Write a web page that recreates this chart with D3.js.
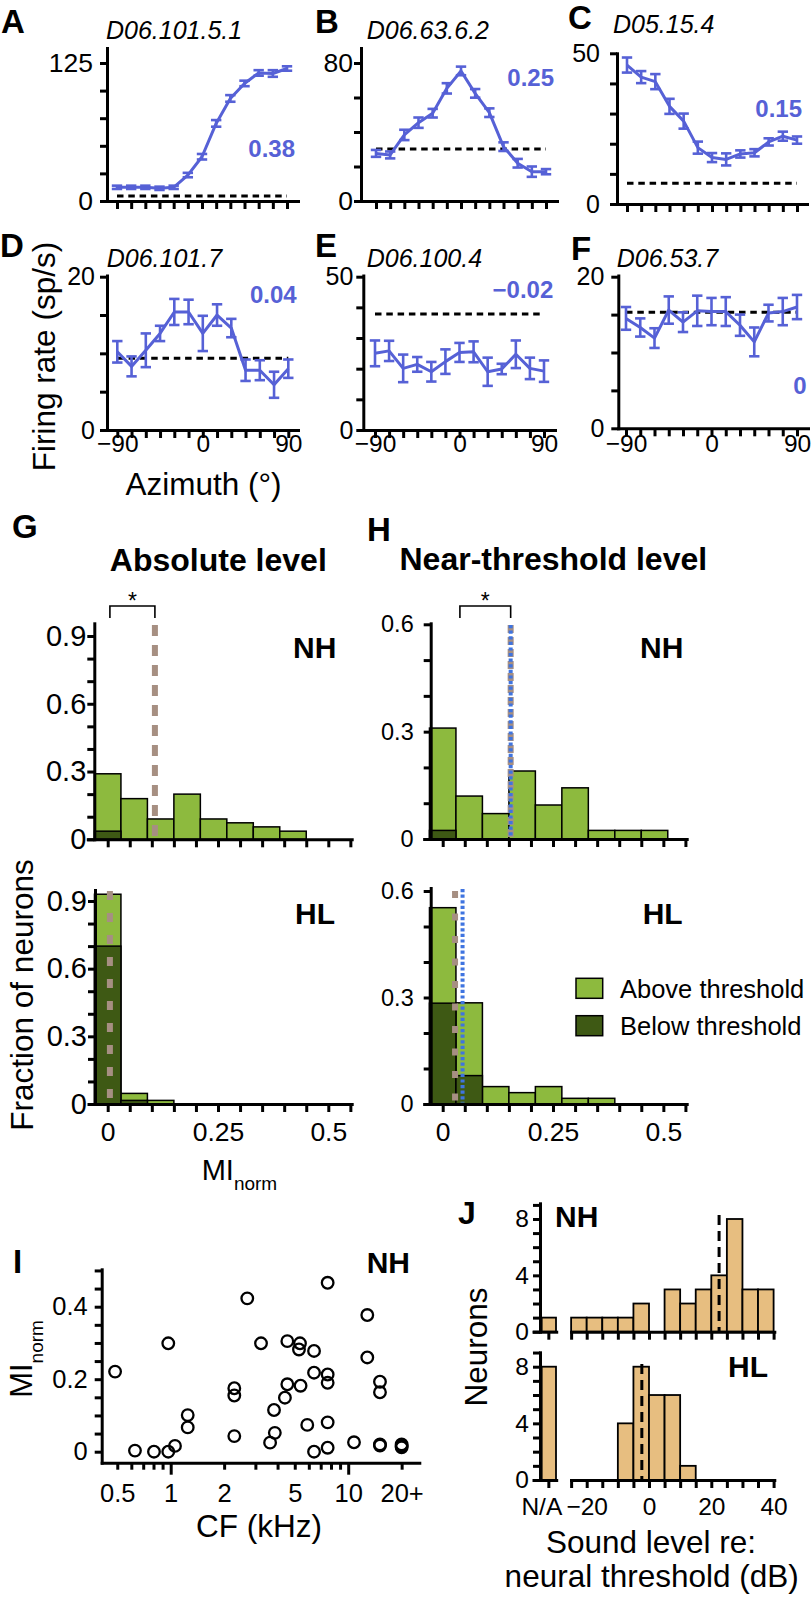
<!DOCTYPE html>
<html>
<head>
<meta charset="utf-8">
<script src="https://cdn.jsdelivr.net/npm/d3@7/dist/d3.min.js"></script>
<style>
html,body{margin:0;padding:0;background:#fff;}
svg{display:block;}
</style>
</head>
<body>
<svg id="fig" width="812" height="1603" xmlns="http://www.w3.org/2000/svg"></svg>
<script>
// ---------------- DATA ----------------
const azimuth = [-90,-75,-60,-45,-30,-15,0,15,30,45,60,75,90];
const azimuthLabels = [-90,0,90];

const rateA = [12.4,12.4,12.4,11.5,12.4,23.5,40.1,70.3,92.9,106.5,116,115.5,120];
const errA  = [1.5,1.5,1.5,1.5,1.5,2,2.5,3,3,2.5,2.5,3,2];
const spontA = 4.5, miA = '0.38', cellA = 'D06.101.5.1';

const rateB = [27.6,26.7,38.3,45.4,50.9,65.3,75.4,62.4,51.2,31.5,21.9,17.0,17.0];
const errB  = [2,2,3,3,2.5,3,2.5,2.5,2.5,2.5,2.5,3,1.5];
const spontB = 30.1, miB = '0.25', cellB = 'D06.63.6.2';

const rateC = [46.1,42.1,40.6,32.4,27.5,18.7,15.4,14.8,16.6,17.0,20.6,22.5,21.2];
const errC  = [2.5,2,2.5,2.5,2.5,2,1.5,2,1.2,1.2,1.2,1.5,1.2];
const spontC = 6.9, miC = '0.15', cellC = 'D05.15.4';

const rateD = [10.2,8.3,10.4,12.6,15.4,15.4,12.6,15.0,13.3,7.8,7.8,5.9,8.0];
const errD  = [1.4,1.3,2.2,1.0,1.7,1.6,2.3,1.4,1.2,1.4,1.3,1.7,1.2];
const spontD = 9.35, miD = '0.04', cellD = 'D06.101.7';

const rateE = [25.0,25.8,20.1,21.4,19.0,22.3,25.3,25.5,19.0,19.9,24.7,20.1,19.2];
const errE  = [4.2,3.3,4.5,2.4,3.2,4.0,3.1,3.4,4.6,1.7,4.5,3.5,3.5];
const spontE = 37.8, miE = '\u22120.02', cellE = 'D06.100.4';

const rateF = [14.5,13.3,11.9,15.6,14.0,15.5,15.4,15.4,13.6,11.4,15.2,15.4,16.0];
const errF  = [1.5,1.2,1.3,1.8,1.3,2.0,1.8,1.9,1.4,1.9,1.1,1.8,1.6];
const spontF = 15.3, miF = '0', cellF = 'D06.53.7';

// MI_norm histograms (bin centres, width 0.06)
const miBinCenters = [0,0.06,0.12,0.18,0.24,0.30,0.36,0.42,0.48];
const miBinWidth = 0.06;
const absNH_all   = [0.29,0.18,0.09,0.20,0.09,0.073,0.055,0.036,0];
const absNH_below = [0.036,0,0,0,0,0,0,0,0];
const absHL_all   = [0.93,0.047,0.016,0,0,0,0,0,0];
const absHL_below = [0.70,0.016,0,0,0,0,0,0,0];
const nearNH_all   = [0.31,0.12,0.071,0.19,0.095,0.143,0.024,0.024,0.024];
const nearNH_below = [0.024,0,0,0,0,0,0,0,0];
const nearHL_all   = [0.553,0.285,0.049,0.032,0.049,0.016,0.016,0,0];
const nearHL_below = [0.284,0.080,0,0,0,0,0,0,0];
const medAbsNH = 0.107, medAbsHL = 0.005;
const medNearNH = 0.154, medNearNH_blue = 0.154;
const medNearHL = 0.028, medNearHL_blue = 0.045;
const bracketG = [0.005, 0.107], bracketH = [0.039, 0.154];

// Scatter I
const cfKHz = [0.486,0.629,0.805,0.969,0.969,1.057,1.247,1.247,2.282,2.282,2.282,2.70,3.227,3.82,3.86,3.63,4.40,4.54,4.54,5.35,5.28,5.39,5.88,6.42,6.42,6.42,7.66,7.66,7.66,7.66,7.66,10.78,12.81,12.81,15.1,15.1,15.1,15.1,20,20,20];
const miNorm = [0.221,0.003,0.0,0.299,0.0,0.016,0.101,0.067,0.175,0.155,0.043,0.423,0.299,0.115,0.052,0.025,0.149,0.186,0.305,0.299,0.282,0.182,0.074,0.278,0.218,0.0,0.213,0.190,0.081,0.011,0.466,0.026,0.377,0.260,0.193,0.164,0.020,0.017,0.020,0.012,0.016];
const cfTicks = [0.5,0.6,0.7,0.8,0.9,1,2,3,4,5,6,7,8,9,10,20];
const cfLabels = [0.5,1,2,5,10,20];

// J histograms (5-dB bins, left edges)
const levelBinStarts = [-25,-20,-15,-10,-5,0,5,10,15,20,25,30,35];
const nhCounts = [1,1,1,1,2,0,3,2,3,4,8,3,3];
const hlCounts = [0,0,0,4,8,6,6,1,0,0,0,0,0];
const nhNA = 1, hlNA = 8;
const nhMedianDb = 22.5, hlMedianDb = -2.3;
const levelLabels = [-20,0,20,40];

// ---------------- DRAWING ----------------
const FONT = "'Liberation Sans', Arial, Helvetica, sans-serif";
const BLUE = '#5661d6';
const LIGHT = '#8dba3e', DARK = '#3e5914';
const BROWN = '#a68f82', DOTBLUE = '#3f74e0';
const TAN = '#e7be80';
const svg = d3.select('#fig').attr('font-family', FONT);

function calScale(v0, p0, v1, p1, pa, pb) {
  const s = d3.scaleLinear().domain([v0, v1]).range([p0, p1]);
  return d3.scaleLinear().domain([s.invert(pa), s.invert(pb)]).range([pa, pb]);
}
function styleAxis(g, fs) {
  g.attr('font-family', FONT).attr('font-size', fs);
  g.select('path.domain').attr('stroke', '#000').attr('stroke-width', 3).attr('stroke-linecap', 'square');
  g.selectAll('.tick line').attr('stroke', '#000').attr('stroke-width', 3);
  g.selectAll('.tick text').attr('fill', '#000');
  return g;
}
function txt(x, y, s, o = {}) {
  const t = svg.append('text').attr('x', x).attr('y', y).text(s)
    .attr('font-size', o.fs || 24).attr('text-anchor', o.anchor || 'start')
    .attr('fill', o.fill || '#000');
  if (o.bold) t.attr('font-weight', 'bold');
  if (o.italic) t.attr('font-style', 'italic');
  if (o.rot) t.attr('transform', `rotate(-90,${x},${y})`);
  if (o.ls) t.attr('letter-spacing', o.ls);
  return t;
}
const fmtMinus = d => d < 0 ? '\u2212' + (-d) : String(d);

function linePanel(p) {
  const x = calScale(-90, p.xr[0], 90, p.xr[1], p.ax, p.xEnd);
  const y = calScale(0, p.y0, p.yLab, p.yLabPx, p.y0, p.yTop);
  const gx = svg.append('g').attr('transform', `translate(0,${p.y0})`)
    .call(d3.axisBottom(x).tickValues(azimuth).tickSize(8).tickSizeOuter(0)
      .tickFormat(d => (p.xLabels && azimuthLabels.includes(d)) ? fmtMinus(d) : ''));
  styleAxis(gx, 24.5);
  gx.selectAll('.tick text').attr('y', 452 - p.y0).attr('dy', null);
  const yt = d3.range(0, p.yLab + p.yStep / 2, p.yStep);
  const gy = svg.append('g').attr('transform', `translate(${p.ax},0)`)
    .call(d3.axisLeft(y).tickValues(yt).tickSize(7).tickPadding(p.yPad).tickSizeOuter(0)
      .tickFormat(d => (d === 0 || d === p.yLab) ? d : ''));
  styleAxis(gy, p.yFs);

  svg.append('line').attr('x1', x(-90)).attr('x2', x(90))
    .attr('y1', y(p.spont)).attr('y2', y(p.spont))
    .attr('stroke', '#000').attr('stroke-width', 3).attr('stroke-dasharray', '6.5,4.8');

  const pts = azimuth.map((a, i) => ({ a, v: p.rate[i], e: p.err[i] }));
  svg.append('path').datum(pts)
    .attr('d', d3.line().x(d => x(d.a)).y(d => y(d.v)))
    .attr('fill', 'none').attr('stroke', BLUE).attr('stroke-width', 3).attr('stroke-linejoin', 'round');
  const eb = svg.append('g').attr('stroke', BLUE).attr('stroke-width', 2.6);
  eb.selectAll('line.v').data(pts).join('line').attr('class', 'v')
    .attr('x1', d => x(d.a)).attr('x2', d => x(d.a))
    .attr('y1', d => y(d.v - d.e)).attr('y2', d => y(d.v + d.e));
  eb.selectAll('line.t').data(pts).join('line').attr('class', 't')
    .attr('x1', d => x(d.a) - 5.2).attr('x2', d => x(d.a) + 5.2)
    .attr('y1', d => y(d.v + d.e)).attr('y2', d => y(d.v + d.e));
  eb.selectAll('line.b').data(pts).join('line').attr('class', 'b')
    .attr('x1', d => x(d.a) - 5.2).attr('x2', d => x(d.a) + 5.2)
    .attr('y1', d => y(d.v - d.e)).attr('y2', d => y(d.v - d.e));

  txt(p.letterX, p.letterY, p.letter, { fs: 33, bold: true });
  txt(p.titleX, p.titleY, p.title, { fs: 25, italic: true });
  txt(p.miX, p.miY, p.mi, { fs: 24, bold: true, fill: BLUE, anchor: 'end' });
}

linePanel({ rate: rateA, err: errA, spont: spontA, mi: miA, title: cellA, letter: 'A',
  xr: [117, 287], ax: 107, xEnd: 298, y0: 201, yLab: 125, yLabPx: 63, yTop: 48, yStep: 25, yPad: 7, yFs: 26.5,
  titleX: 106, titleY: 39, letterX: 1, letterY: 33, miX: 295, miY: 157, xLabels: false });
linePanel({ rate: rateB, err: errB, spont: spontB, mi: miB, title: cellB, letter: 'B',
  xr: [376, 546], ax: 361, xEnd: 557, y0: 201, yLab: 80, yLabPx: 63, yTop: 48, yStep: 20, yPad: 1, yFs: 26.5,
  titleX: 366.7, titleY: 39, letterX: 315, letterY: 33, miX: 554, miY: 86, xLabels: false });
linePanel({ rate: rateC, err: errC, spont: spontC, mi: miC, title: cellC, letter: 'C',
  xr: [627, 797], ax: 617, xEnd: 807, y0: 204, yLab: 50, yLabPx: 53.3, yTop: 53.3, yStep: 10, yPad: 10, yFs: 25,
  titleX: 613, titleY: 33.3, letterX: 568, letterY: 29, miX: 802, miY: 117, xLabels: false });
linePanel({ rate: rateD, err: errD, spont: spontD, mi: miD, title: cellD, letter: 'D',
  xr: [117.3, 288.3], ax: 107, xEnd: 298, y0: 430, yLab: 20, yLabPx: 276.7, yTop: 275.5, yStep: 5, yPad: 5, yFs: 25,
  titleX: 106.7, titleY: 266.7, letterX: 0, letterY: 257, miX: 296.7, miY: 302.5, xLabels: true });
linePanel({ rate: rateE, err: errE, spont: spontE, mi: miE, title: cellE, letter: 'E',
  xr: [375, 544], ax: 363.3, xEnd: 555, y0: 430, yLab: 50, yLabPx: 276.7, yTop: 275.5, yStep: 10, yPad: 3, yFs: 25,
  titleX: 366.7, titleY: 266.7, letterX: 315, letterY: 257, miX: 553.3, miY: 298.3, xLabels: true });
linePanel({ rate: rateF, err: errF, spont: spontF, mi: miF, title: cellF, letter: 'F',
  xr: [626, 797], ax: 618.3, xEnd: 808, y0: 428.3, yLab: 20, yLabPx: 276.7, yTop: 275.5, yStep: 5, yPad: 7, yFs: 25,
  titleX: 616.7, titleY: 266.7, letterX: 571, letterY: 260, miX: 806.7, miY: 394, xLabels: true });

txt(55, 356.5, 'Firing rate (sp/s)', { fs: 31.5, anchor: 'middle', rot: true });
txt(203.5, 495, 'Azimuth (°)', { fs: 31.5, anchor: 'middle' });

// ---------- Histograms G / H ----------
function histPanel(p) {
  const x = calScale(0, p.x0, 0.5, p.x0 + 0.5 * p.xpu, p.ax - 6.5, p.xEnd);
  const y = calScale(0, p.y0, p.yLab, p.yLabPx, p.y0, p.yTop);
  const bins = miBinCenters.map((c, i) => ({ c, all: p.all[i], below: p.below[i] }));
  const bx = d => x(d.c - miBinWidth / 2), bw = d => x(d.c + miBinWidth / 2) - x(d.c - miBinWidth / 2);
  const g = svg.append('g').attr('stroke', '#000').attr('stroke-width', 1.5);
  g.selectAll('rect.a').data(bins.filter(d => d.all > 0)).join('rect').attr('class', 'a')
    .attr('x', bx).attr('width', bw).attr('y', d => y(d.all)).attr('height', d => y(0) - y(d.all))
    .attr('fill', LIGHT);
  g.selectAll('rect.b').data(bins.filter(d => d.below > 0)).join('rect').attr('class', 'b')
    .attr('x', bx).attr('width', bw).attr('y', d => y(d.below)).attr('height', d => y(0) - y(d.below))
    .attr('fill', DARK);

  const xt = d3.range(0, 12).map(i => i * 0.05);
  const gx = svg.append('g').attr('transform', `translate(0,${p.y0})`)
    .call(d3.axisBottom(x).tickValues(xt).tickSize(8).tickSizeOuter(0)
      .tickFormat(d => {
        if (!p.xLabels) return '';
        if (Math.abs(d) < 1e-9) return '0';
        if (Math.abs(d - 0.25) < 1e-9) return '0.25';
        if (Math.abs(d - 0.5) < 1e-9) return '0.5';
        return '';
      }));
  styleAxis(gx, 26.5);
  gx.selectAll('.tick text').attr('y', 36.7).attr('dy', null);
  const nT = Math.round(p.yLab * 10);
  const yt = d3.range(0, nT + 1).map(i => i / 10);
  const gy = svg.append('g').attr('transform', `translate(${p.ax},0)`)
    .call(d3.axisLeft(y).tickValues(yt).tickSize(7).tickPadding(p.yPad).tickSizeOuter(0)
      .tickFormat((d, i) => i % 3 === 0 ? (i === 0 ? '0' : d3.format('.1f')(d)) : ''));
  styleAxis(gy, p.yFs);

  p.lines.forEach(l => {
    const ln = svg.append('line').attr('x1', x(l.v)).attr('x2', x(l.v))
      .attr('y1', l.top).attr('y2', y(0) - 1.5);
    if (l.kind === 'brown') ln.attr('stroke', BROWN).attr('stroke-width', 6).attr('stroke-dasharray', p.brownDash);
    else ln.attr('stroke', DOTBLUE).attr('stroke-width', 4).attr('stroke-dasharray', '3.2,2.4');
  });
  if (p.bracket) {
    const [b0, b1] = p.bracket, yb = p.bracketY;
    svg.append('path').attr('d', `M${x(b0)},${yb + 12}V${yb}H${x(b1)}V${yb + 12}`)
      .attr('fill', 'none').attr('stroke', '#000').attr('stroke-width', 1.6);
    txt((x(b0) + x(b1)) / 2, yb + 3, '*', { fs: 23, anchor: 'middle' });
  }
  txt(p.tagX, p.tagY, p.tag, { fs: 30, bold: true });
}

histPanel({ all: absNH_all, below: absNH_below, ax: 94.3, x0: 107.7, xpu: 441.2, xEnd: 351.7,
  y0: 839.3, yLab: 0.9, yLabPx: 636, yTop: 623.3, yFs: 29, yPad: 1, xLabels: false,
  lines: [{ v: medAbsNH, kind: 'brown', top: 625 }], brownDash: '11,9',
  bracket: bracketG, bracketY: 606, tag: 'NH', tagX: 293, tagY: 658.3 });
histPanel({ all: absHL_all, below: absHL_below, ax: 95, x0: 107.7, xpu: 441.2, xEnd: 351.7,
  y0: 1104, yLab: 0.9, yLabPx: 901, yTop: 890, yFs: 29, yPad: 1, xLabels: true,
  lines: [{ v: medAbsHL, kind: 'brown', top: 891 }], brownDash: '9,13',
  tag: 'HL', tagX: 295, tagY: 924.3 });
histPanel({ all: nearNH_all, below: nearNH_below, ax: 430.7, x0: 442.7, xpu: 441.3, xEnd: 686.7,
  y0: 839, yLab: 0.6, yLabPx: 624.3, yTop: 623.3, yFs: 23.5, yPad: 10, xLabels: false,
  lines: [{ v: medNearNH, kind: 'brown', top: 625 }, { v: medNearNH_blue, kind: 'blue', top: 625 }], brownDash: '8,4',
  bracket: bracketH, bracketY: 606, tag: 'NH', tagX: 640, tagY: 657.7 });
histPanel({ all: nearHL_all, below: nearHL_below, ax: 430.7, x0: 442.7, xpu: 441.3, xEnd: 686.7,
  y0: 1104, yLab: 0.6, yLabPx: 891, yTop: 888, yFs: 23.5, yPad: 10, xLabels: true,
  lines: [{ v: medNearHL, kind: 'brown', top: 891 }, { v: medNearHL_blue, kind: 'blue', top: 889 }], brownDash: '7,15.5',
  tag: 'HL', tagX: 642.7, tagY: 924.3 });

txt(12, 538, 'G', { fs: 33, bold: true });
txt(367, 541, 'H', { fs: 33, bold: true });
txt(218.3, 570.7, 'Absolute level', { fs: 32, bold: true, anchor: 'middle' });
txt(553.3, 570, 'Near-threshold level', { fs: 32, bold: true, anchor: 'middle' });
txt(33.3, 995, 'Fraction of neurons', { fs: 31.5, anchor: 'middle', rot: true });
{
  const t = txt(201.7, 1180, 'MI', { fs: 29 });
  t.append('tspan').attr('font-size', 19).attr('dy', 10).text('norm');
}
// legend
[{ lab: 'Above threshold', fill: LIGHT, y: 978.3 }, { lab: 'Below threshold', fill: DARK, y: 1015.7 }].forEach(d => {
  svg.append('rect').attr('x', 576).attr('y', d.y).attr('width', 26.7).attr('height', 20)
    .attr('fill', d.fill).attr('stroke', '#000').attr('stroke-width', 1.5);
  txt(620, d.y + 19.5, d.lab, { fs: 25.5 });
});

// ---------- Scatter I ----------
{
  const xc = d3.scaleLog().domain([1, 10]).range([170.7, 348.2]);
  const x = d3.scaleLog().domain([xc.invert(101.7), xc.invert(419.3)]).range([101.7, 419.3]);
  const y = calScale(0, 1451.7, 0.4, 1306.7, 1462.7, 1269.3);
  const gx = svg.append('g').attr('transform', 'translate(0,1462.7)')
    .call(d3.axisBottom(x).tickValues(cfTicks).tickSize(7).tickSizeOuter(0)
      .tickFormat(d => cfLabels.includes(d) ? (d === 20 ? '20+' : String(d)) : ''));
  styleAxis(gx, 25.5);
  gx.selectAll('.tick line').attr('y2', d => (d === 1 || d === 10) ? 12 : 7);
  gx.selectAll('.tick text').attr('y', 39).attr('dy', null);
  const gy = svg.append('g').attr('transform', 'translate(101.7,0)')
    .call(d3.axisLeft(y).tickValues(d3.range(0, 11).map(i => i * 0.05)).tickSize(7).tickPadding(7).tickSizeOuter(0)
      .tickFormat((d, i) => (i % 4 === 0 && i <= 8) ? (i === 0 ? '0' : d3.format('.1f')(d)) : ''));
  styleAxis(gy, 25.5);
  const pts = cfKHz.map((c, i) => ({ c, m: miNorm[i] }));
  svg.append('g').selectAll('circle').data(pts).join('circle')
    .attr('cx', d => x(d.c)).attr('cy', d => y(d.m)).attr('r', 5.8)
    .attr('fill', 'none').attr('stroke', '#000').attr('stroke-width', 2.3);
  txt(13, 1273, 'I', { fs: 33, bold: true });
  txt(366.7, 1273.3, 'NH', { fs: 30, bold: true });
  txt(259, 1536.7, 'CF (kHz)', { fs: 31.5, anchor: 'middle' });
  const t = txt(32, 1359, 'MI', { fs: 31, anchor: 'middle', rot: true });
  t.append('tspan').attr('font-size', 19).attr('dy', 11).text('norm');
}

// ---------- J ----------
function jPanel(p) {
  const x = calScale(0, 649, 20, 711.3, 571, 774.3);
  const na = d3.scaleBand().domain(['N/A']).range([541.7, 556]);
  const y = calScale(0, p.y0, 8, p.y8, p.y0, p.yTop);
  const bins = levelBinStarts.map((b, i) => ({ b, n: p.counts[i] })).filter(d => d.n > 0);
  const g = svg.append('g').attr('stroke', '#000').attr('stroke-width', 1.8).attr('fill', TAN);
  g.selectAll('rect.m').data(bins).join('rect').attr('class', 'm')
    .attr('x', d => x(d.b)).attr('width', d => x(d.b + 5) - x(d.b))
    .attr('y', d => y(d.n)).attr('height', d => y(0) - y(d.n));
  g.selectAll('rect.na').data([{ k: 'N/A', n: p.na }]).join('rect').attr('class', 'na')
    .attr('x', d => na(d.k)).attr('width', na.bandwidth())
    .attr('y', d => y(d.n)).attr('height', d => y(0) - y(d.n));

  const xt = d3.range(-25, 41, 5);
  const gx = svg.append('g').attr('transform', `translate(0,${p.y0})`)
    .call(d3.axisBottom(x).tickValues(xt).tickSize(8).tickSizeOuter(0)
      .tickFormat(d => (p.xLabels && levelLabels.includes(d)) ? fmtMinus(d) : ''));
  styleAxis(gx, 24.5);
  gx.selectAll('.tick text').attr('y', 35).attr('dy', null);
  const gna = svg.append('g').attr('transform', `translate(0,${p.y0})`)
    .call(d3.axisBottom(na).tickSize(8).tickSizeOuter(0).tickFormat(d => p.xLabels ? d : ''));
  styleAxis(gna, 24.5);
  gna.select('path.domain').attr('d', `M${540 - 6},0.5H${na.range()[1] + 0.7}`);
  gna.selectAll('.tick text').attr('y', 35).attr('dy', null).attr('dx', -7);
  const gy = svg.append('g').attr('transform', 'translate(540,0)')
    .call(d3.axisLeft(y).tickValues(d3.range(0, 10)).tickSize(7).tickPadding(4).tickSizeOuter(0)
      .tickFormat(d => d % 4 === 0 ? d : ''));
  styleAxis(gy, 24.5);
  svg.append('line').attr('x1', x(p.median)).attr('x2', x(p.median))
    .attr('y1', y(p.medTop)).attr('y2', y(0))
    .attr('stroke', '#000').attr('stroke-width', 3).attr('stroke-dasharray', '10,6');
  txt(p.tagX, p.tagY, p.tag, { fs: 30, bold: true });
}
jPanel({ counts: nhCounts, na: nhNA, median: nhMedianDb, medTop: 8.28, y0: 1331.7, y8: 1219, yTop: 1203.3,
  xLabels: false, tag: 'NH', tagX: 555, tagY: 1227.3 });
jPanel({ counts: hlCounts, na: hlNA, median: hlMedianDb, medTop: 8.19, y0: 1480, y8: 1366.7, yTop: 1352.3,
  xLabels: true, tag: 'HL', tagX: 728, tagY: 1377.3 });
txt(458, 1224, 'J', { fs: 32, bold: true });
txt(486.7, 1347, 'Neurons', { fs: 31.5, anchor: 'middle', rot: true });
txt(651, 1553.3, 'Sound level re:', { fs: 31.5, anchor: 'middle' });
txt(651.7, 1586.7, 'neural threshold (dB)', { fs: 31.5, anchor: 'middle' });
</script>
</body>
</html>
